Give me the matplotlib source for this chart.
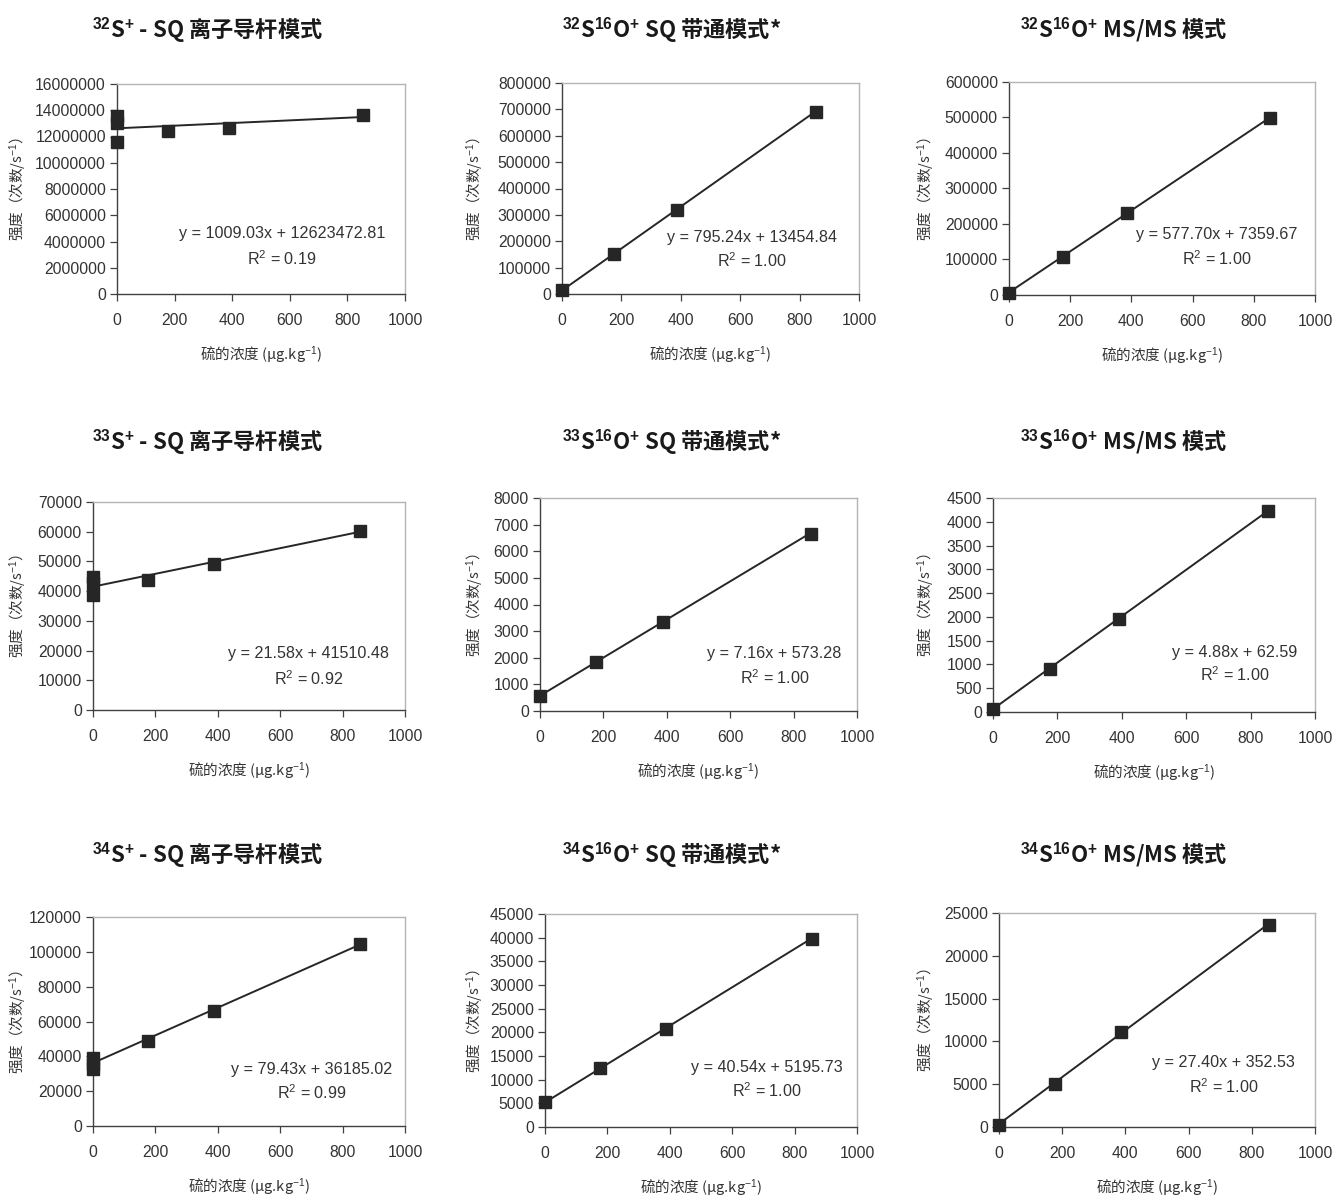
import numpy as np
import matplotlib.pyplot as plt
from matplotlib.ticker import MultipleLocator

plt.rcParams['font.family'] = ['Liberation Sans', 'Noto Sans CJK SC']
plt.rcParams['mathtext.fontset'] = 'custom'
plt.rcParams['mathtext.rm'] = 'Liberation Sans'
plt.rcParams['mathtext.it'] = 'Liberation Sans:italic'
plt.rcParams['mathtext.bf'] = 'Liberation Sans:bold'

# ---- data ----
titles = [
    r'$^{\mathbf{32}}$S$^{\mathbf{+}}$ - SQ 离子导杆模式',
    r'$^{\mathbf{32}}$S$^{\mathbf{16}}$O$^{\mathbf{+}}$ SQ 带通模式*',
    r'$^{\mathbf{32}}$S$^{\mathbf{16}}$O$^{\mathbf{+}}$ MS/MS 模式',
    r'$^{\mathbf{33}}$S$^{\mathbf{+}}$ - SQ 离子导杆模式',
    r'$^{\mathbf{33}}$S$^{\mathbf{16}}$O$^{\mathbf{+}}$ SQ 带通模式*',
    r'$^{\mathbf{33}}$S$^{\mathbf{16}}$O$^{\mathbf{+}}$ MS/MS 模式',
    r'$^{\mathbf{34}}$S$^{\mathbf{+}}$ - SQ 离子导杆模式',
    r'$^{\mathbf{34}}$S$^{\mathbf{16}}$O$^{\mathbf{+}}$ SQ 带通模式*',
    r'$^{\mathbf{34}}$S$^{\mathbf{16}}$O$^{\mathbf{+}}$ MS/MS 模式',
]

x_32s_sq = [0, 0, 0, 176, 388, 855]
y_32s_sq = [13590000, 13060000, 11610000, 12450000, 12680000, 13640000]
x_32so_sq = [0, 176, 388, 855]
y_32so_sq = [16000, 151500, 320000, 691000]
x_32so_ms = [0, 177, 387, 853]
y_32so_ms = [5600, 107700, 231000, 498000]

x_33s_sq = [0, 0, 0, 176, 388, 855]
y_33s_sq = [44600, 42700, 38700, 43800, 49200, 60300]
x_33so_sq = [0, 176, 388, 855]
y_33so_sq = [560, 1840, 3345, 6650]
x_33so_ms = [0, 177, 390, 855]
y_33so_ms = [70, 907, 1962, 4230]

x_34s_sq = [0, 0, 0, 176, 388, 855]
y_34s_sq = [38900, 35800, 32800, 48900, 66000, 104500]
x_34so_sq = [0, 176, 388, 855]
y_34so_sq = [5270, 12500, 20750, 39800]
x_34so_ms = [0, 177, 387, 853]
y_34so_ms = [270, 5060, 11060, 23640]

xs = [x_32s_sq, x_32so_sq, x_32so_ms, x_33s_sq, x_33so_sq, x_33so_ms,
      x_34s_sq, x_34so_sq, x_34so_ms]
ys = [y_32s_sq, y_32so_sq, y_32so_ms, y_33s_sq, y_33so_sq, y_33so_ms,
      y_34s_sq, y_34so_sq, y_34so_ms]

slopes = [1009.03, 795.24, 577.70, 21.58, 7.16, 4.88, 79.43, 40.54, 27.40]
intercepts = [12623472.81, 13454.84, 7359.67, 41510.48, 573.28, 62.59,
              36185.02, 5195.73, 352.53]
r2 = [0.19, 1.00, 1.00, 0.92, 1.00, 1.00, 0.99, 1.00, 1.00]

y_max = [16000000, 800000, 600000, 70000, 8000, 4500, 120000, 45000, 25000]
y_step = [2000000, 100000, 100000, 10000, 1000, 500, 20000, 5000, 5000]

# ---- layout (pixels: left, top, right, bottom) ----
W, H = 1336, 1197
boxes = [
    (117, 84, 405, 294), (562, 83, 859, 294), (1009, 82, 1315, 295),
    (93, 502, 405, 710), (540, 498, 857, 711), (993, 498, 1315, 712),
    (93, 917, 405, 1126), (545, 914, 857, 1127), (999, 913, 1315, 1127),
]
title_x = [208, 672, 1124]
title_y = [30, 442, 855]
ylabel_x = [18, 475, 926]
ann_pos = [(0.573, 0.29, 0.17), (0.64, 0.27, 0.16), (0.68, 0.286, 0.17),
           (0.69, 0.27, 0.15), (0.74, 0.27, 0.155), (0.75, 0.28, 0.173),
           (0.70, 0.27, 0.16), (0.71, 0.28, 0.17), (0.71, 0.30, 0.187)]

ink = '#262626'
fig = plt.figure(figsize=(W / 100, H / 100), dpi=100)

for i in range(9):
    l, t, r, b = boxes[i]
    ax = fig.add_axes([l / W, 1 - b / H, (r - l) / W, (b - t) / H])

    fit_x = np.array([0, max(xs[i])])
    ax.plot(fit_x, slopes[i] * fit_x + intercepts[i], color=ink, lw=1.4, zorder=2)
    ax.plot(xs[i], ys[i], 's', color=ink, ms=8, zorder=3, clip_on=False)

    ax.set_xlim(0, 1000)
    ax.set_ylim(0, y_max[i])
    ax.xaxis.set_major_locator(MultipleLocator(200))
    ax.yaxis.set_major_locator(MultipleLocator(y_step[i]))
    ax.yaxis.set_major_formatter(plt.FuncFormatter(lambda v, p: '%d' % v))

    for s in ['left', 'bottom']:
        ax.spines[s].set_color('#404040')
        ax.spines[s].set_linewidth(1.0)
    for s in ['top', 'right']:
        ax.spines[s].set_color('#b4b4b4')
        ax.spines[s].set_linewidth(1.0)
    ax.tick_params(direction='out', length=5, width=0.9, color='#404040',
                   labelsize=11.3, labelcolor='#333333', pad=3)
    ax.tick_params(axis='x', pad=9)

    fx, y1, y2 = ann_pos[i]
    ax.text(fx, y1, 'y = %.2fx + %.2f' % (slopes[i], intercepts[i]),
            transform=ax.transAxes, ha='center', va='center', fontsize=11.6,
            color='#333333')
    ax.text(fx, y2, 'R$^2$ = %.2f' % r2[i], transform=ax.transAxes,
            ha='center', va='center', fontsize=11.6, color='#333333')

    col, row = i % 3, i // 3
    fig.text(ylabel_x[col] / W, 1 - (t + b) / 2 / H, '强度（次数/s$^{-1}$）',
             rotation=90, ha='center', va='center', fontsize=10.5,
             family='Noto Sans CJK SC', color='#333333')
    fig.text((l + r) / 2 / W, 1 - (b + 61) / H, '硫的浓度 (μg.kg$^{-1}$)',
             ha='center', va='center', fontsize=10.5,
             family='Noto Sans CJK SC', color='#333333')
    fig.text(title_x[col] / W, 1 - title_y[row] / H, titles[i],
             ha='center', va='center', fontsize=16, fontweight='bold',
             family='Noto Sans CJK SC', color='#1a1a1a')

plt.savefig('out.png', dpi=100)
